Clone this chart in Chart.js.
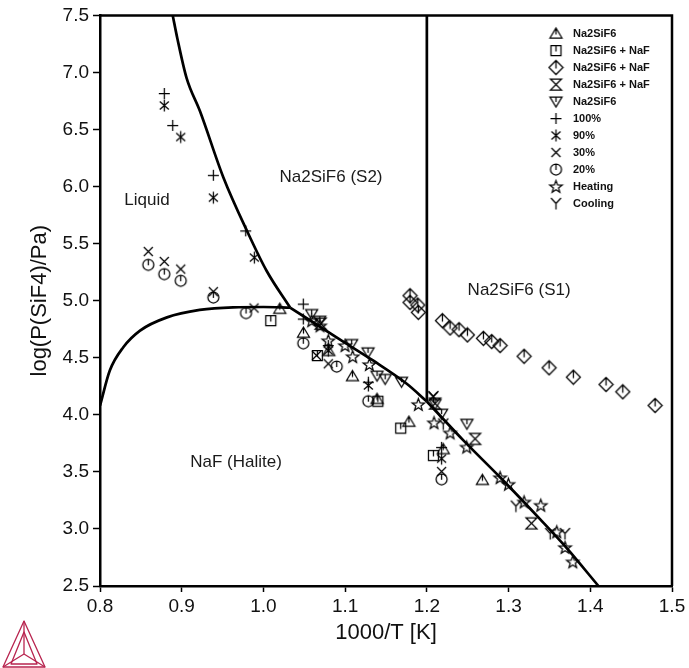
<!DOCTYPE html>
<html>
<head>
<meta charset="utf-8">
<script src="https://cdn.jsdelivr.net/npm/chart.js@4.4.1/dist/chart.umd.min.js"></script>
<style>
  html, body { margin: 0; padding: 0; background: #fff; }
  #wrap { position: relative; width: 689px; height: 668px; }
  #logo { position: absolute; left: 0; top: 618px; }
</style>
</head>
<body>
<div id="wrap">
  <canvas id="chart" width="689" height="668"></canvas>
  <svg id="logo" width="50" height="50" viewBox="0 0 50 50">
    <g fill="none" stroke="#b8244f" stroke-width="1.3" stroke-linejoin="round">
      <polygon points="24,3 3,49 45,49"/>
      <polygon points="24,14 11,46 37,46"/>
      <line x1="24" y1="3" x2="24" y2="36"/>
      <line x1="24" y1="36" x2="3" y2="49"/>
      <line x1="24" y1="36" x2="45" y2="49"/>
    </g>
  </svg>
</div>
<script>
/* ===== DATA ===== */
// phase boundaries
const liqS2X = [0.889, 0.8946, 0.906, 0.9224, 0.951, 0.980, 1.004, 1.0326];
const liqS2Y = [7.5, 7.30, 6.95, 6.66, 6.08, 5.61, 5.26, 4.94];
const liqNaFX = [0.8, 0.812, 0.8285, 0.849, 0.882, 0.922, 0.963, 1.0, 1.0326];
const liqNaFY = [4.08, 4.388, 4.592, 4.738, 4.854, 4.919, 4.942, 4.945, 4.94];
// NaF / Na2SiF6 boundary, split at the S1/S2 point
const s2NaFX = [1.0326, 1.0938, 1.1341, 1.1754, 1.2];
const s2NaFY = [4.94, 4.659, 4.476, 4.272, 4.117];
const s1NaFX = [1.2, 1.2447, 1.2896, 1.3385, 1.3712, 1.41];
const s1NaFY = [4.117, 3.776, 3.453, 3.086, 2.832, 2.5];
const s1S2X = [1.2, 1.2];
const s1S2Y = [7.5, 4.117];

// measured points
const triX = [1.02, 1.049, 1.08, 1.109, 1.139, 1.178, 1.22, 1.268];
const triY = [4.93, 4.72, 4.56, 4.34, 4.14, 3.94, 3.70, 3.43];
const sqX = [1.009, 1.066, 1.14, 1.168, 1.208];
const sqY = [4.826, 4.52, 4.12, 3.884, 3.645];
const diaX = [1.1794, 1.1794, 1.1889, 1.1896, 1.219, 1.2284, 1.2394, 1.2496, 1.2692, 1.2794, 1.2896, 1.319, 1.3496, 1.3793, 1.4193, 1.4398, 1.4793];
const diaY = [5.044, 4.985, 4.962, 4.898, 4.825, 4.761, 4.746, 4.700, 4.670, 4.642, 4.607, 4.513, 4.412, 4.330, 4.266, 4.202, 4.082];
const hourX = [1.07, 1.21, 1.259, 1.328];
const hourY = [4.80, 4.10, 3.79, 3.05];
const dtriX = [1.059, 1.069, 1.108, 1.128, 1.139, 1.149, 1.169, 1.21, 1.218, 1.249];
const dtriY = [4.884, 4.825, 4.621, 4.548, 4.344, 4.315, 4.29, 4.097, 4.01, 3.922];
const p100X = [0.8787, 0.889, 0.9387, 0.9783, 1.0488, 1.0488, 1.0794, 1.1284, 1.218];
const p100Y = [6.816, 6.536, 6.099, 5.612, 4.971, 4.84, 4.607, 4.286, 3.715];
const p90X = [0.8787, 0.8988, 0.9387, 0.9889, 1.0794, 1.1284, 1.218];
const p90Y = [6.711, 6.434, 5.903, 5.378, 4.563, 4.257, 3.616];
const p30X = [0.8591, 0.8787, 0.8988, 0.9387, 0.9885, 1.065, 1.0794, 1.2076, 1.218];
const p30Y = [5.431, 5.344, 5.277, 5.079, 4.936, 4.52, 4.447, 4.161, 3.503];
const p20X = [0.8591, 0.8787, 0.8988, 0.9387, 0.9787, 1.0488, 1.0897, 1.1284, 1.218];
const p20Y = [5.315, 5.233, 5.175, 5.029, 4.892, 4.627, 4.423, 4.120, 3.435];
const heatX = [1.0591, 1.0693, 1.0794, 1.0999, 1.1093, 1.1296, 1.1896, 1.2088, 1.2284, 1.2488, 1.2896, 1.2998, 1.319, 1.3394, 1.359, 1.3691, 1.3786];
const heatY = [4.825, 4.781, 4.650, 4.607, 4.510, 4.441, 4.091, 3.931, 3.842, 3.718, 3.450, 3.392, 3.237, 3.208, 2.975, 2.838, 2.712];
const coolX = [1.208, 1.22, 1.309, 1.351, 1.369];
const coolY = [4.16, 3.92, 3.20, 2.96, 2.96];

// region labels
const regionText = ["Liquid", "Na2SiF6 (S2)", "Na2SiF6 (S1)", "NaF (Halite)"];
const regionX = [0.8575, 1.0827, 1.3129, 0.9665];
const regionY = [5.883, 6.084, 5.087, 3.584];

const xTicks = [0.8, 0.9, 1.0, 1.1, 1.2, 1.3, 1.4, 1.5];
const yTicks = [2.5, 3.0, 3.5, 4.0, 4.5, 5.0, 5.5, 6.0, 6.5, 7.0, 7.5];

/* ===== SYMBOLS ===== */
function makeSymbol(kind) {
  const s = 17, m = 8.5;
  const c = document.createElement("canvas");
  c.width = s; c.height = s;
  const g = c.getContext("2d");
  g.strokeStyle = "#000";
  g.lineWidth = 1.25;
  g.beginPath();
  if (kind === "tri") {
    g.moveTo(m, m - 5.5); g.lineTo(m + 6, m + 4.5); g.lineTo(m - 6, m + 4.5); g.closePath();
    g.moveTo(m, m - 5.5); g.lineTo(m, m + 1);
  } else if (kind === "dtri") {
    g.moveTo(m - 6, m - 4.5); g.lineTo(m + 6, m - 4.5); g.lineTo(m, m + 5.5); g.closePath();
    g.moveTo(m, m - 4.5); g.lineTo(m, m + 0.5);
  } else if (kind === "sq") {
    g.rect(m - 5, m - 5, 10, 10);
    g.moveTo(m, m - 5); g.lineTo(m, m + 1);
  } else if (kind === "dia") {
    g.moveTo(m, m - 7); g.lineTo(m + 7, m); g.lineTo(m, m + 7); g.lineTo(m - 7, m); g.closePath();
    g.moveTo(m, m - 7); g.lineTo(m, m + 1);
  } else if (kind === "hour") {
    g.moveTo(m - 5.5, m - 5.5); g.lineTo(m + 5.5, m - 5.5); g.lineTo(m - 5.5, m + 5.5); g.lineTo(m + 5.5, m + 5.5); g.closePath();
  } else if (kind === "plus") {
    g.moveTo(m - 5.5, m); g.lineTo(m + 5.5, m); g.moveTo(m, m - 5.5); g.lineTo(m, m + 5.5);
  } else if (kind === "ast") {
    g.moveTo(m, m - 6); g.lineTo(m, m + 6);
    g.moveTo(m - 4.5, m - 4); g.lineTo(m + 4.5, m + 4);
    g.moveTo(m + 4.5, m - 4); g.lineTo(m - 4.5, m + 4);
  } else if (kind === "cross") {
    g.moveTo(m - 4.5, m - 4.5); g.lineTo(m + 4.5, m + 4.5);
    g.moveTo(m + 4.5, m - 4.5); g.lineTo(m - 4.5, m + 4.5);
  } else if (kind === "circ") {
    g.arc(m, m, 5.5, 0, Math.PI * 2);
    g.moveTo(m, m - 5.5); g.lineTo(m, m + 0.5);
  } else if (kind === "star") {
    for (let i = 0; i < 10; i++) {
      const r = i % 2 ? 2.7 : 6.5;
      const a = -Math.PI / 2 + i * Math.PI / 5;
      const px = m + r * Math.cos(a), py = m + 0.6 + r * Math.sin(a);
      if (i) g.lineTo(px, py); else g.moveTo(px, py);
    }
    g.closePath();
  } else if (kind === "ycool") {
    g.moveTo(m - 5, m - 5.5); g.lineTo(m, m); g.lineTo(m + 5, m - 5.5);
    g.moveTo(m, m); g.lineTo(m, m + 6);
  }
  g.stroke();
  return c;
}

const pts = (xs, ys) => xs.map((x, i) => ({ x, y: ys[i] }));

function markers(label, xs, ys, kind, row) {
  const icon = makeSymbol(kind);
  return {
    label, data: pts(xs, ys), pointStyle: icon, pointRadius: 5,
    showLine: false, order: 1, legendRow: row, legendIcon: icon
  };
}

function boundary(xs, ys, smooth) {
  return {
    data: pts(xs, ys), showLine: true, borderColor: "#000", borderWidth: 2.7,
    pointRadius: 0, fill: false, order: 0,
    cubicInterpolationMode: smooth ? "monotone" : "default", tension: 0
  };
}

/* ===== PLUGINS ===== */
const frame = {
  id: "frame",
  afterDraw(chart) {
    const { ctx, chartArea: a } = chart;
    ctx.save();
    ctx.strokeStyle = "#000";
    ctx.lineWidth = 2.5;
    ctx.beginPath();
    ctx.moveTo(a.left, a.top);
    ctx.lineTo(a.right, a.top);
    ctx.lineTo(a.right, a.bottom);
    ctx.stroke();
    ctx.restore();
  }
};

const regionLabels = {
  id: "regionLabels",
  afterDatasetsDraw(chart) {
    const { ctx, scales: { x, y } } = chart;
    ctx.save();
    ctx.font = '17px "Liberation Sans", Arial, sans-serif';
    ctx.fillStyle = "#1a1a1a";
    ctx.textAlign = "center";
    ctx.textBaseline = "middle";
    regionText.forEach((t, i) => ctx.fillText(t, x.getPixelForValue(regionX[i]), y.getPixelForValue(regionY[i])));
    ctx.restore();
  }
};

const symLegend = {
  id: "symLegend",
  afterDraw(chart) {
    const { ctx } = chart;
    ctx.save();
    ctx.font = 'bold 11px "Liberation Sans", Arial, sans-serif';
    ctx.fillStyle = "#111";
    ctx.textBaseline = "middle";
    chart.data.datasets.forEach(ds => {
      if (ds.legendRow === undefined) return;
      const yy = 33.5 + ds.legendRow * 17;
      ctx.drawImage(ds.legendIcon, 556 - 8.5, yy - 8.5);
      ctx.fillText(ds.label, 573, yy);
    });
    ctx.restore();
  }
};

/* ===== CHART ===== */
Chart.defaults.font.family = '"Liberation Sans", Arial, sans-serif';
Chart.defaults.color = "#111";

new Chart(document.getElementById("chart"), {
  type: "scatter",
  data: {
    datasets: [
      markers("Na2SiF6", triX, triY, "tri", 0),
      markers("Na2SiF6 + NaF", sqX, sqY, "sq", 1),
      markers("Na2SiF6 + NaF", diaX, diaY, "dia", 2),
      markers("Na2SiF6 + NaF", hourX, hourY, "hour", 3),
      markers("Na2SiF6", dtriX, dtriY, "dtri", 4),
      markers("100%", p100X, p100Y, "plus", 5),
      markers("90%", p90X, p90Y, "ast", 6),
      markers("30%", p30X, p30Y, "cross", 7),
      markers("20%", p20X, p20Y, "circ", 8),
      markers("Heating", heatX, heatY, "star", 9),
      markers("Cooling", coolX, coolY, "ycool", 10),
      boundary(liqS2X, liqS2Y, true),
      boundary(liqNaFX, liqNaFY, true),
      boundary(s2NaFX, s2NaFY, true),
      boundary(s1NaFX, s1NaFY, true),
      boundary(s1S2X, s1S2Y, false)
    ]
  },
  options: {
    responsive: false,
    animation: false,
    layout: { padding: { top: 14, right: 17, left: 0, bottom: 0 } },
    plugins: { legend: { display: false }, tooltip: { enabled: false } },
    scales: {
      x: {
        type: "linear", min: 0.8, max: 1.5,
        afterBuildTicks: s => { s.ticks = xTicks.map(v => ({ value: v })); },
        afterFit: s => { s.height = 82; },
        ticks: { callback: v => v.toFixed(1), font: { size: 19 }, padding: 3, maxRotation: 0, autoSkip: false },
        grid: { drawOnChartArea: false, drawTicks: true, tickLength: 6, tickColor: "#000", tickWidth: 1.5 },
        border: { color: "#000", width: 2.5 },
        title: { display: true, text: "1000/T [K]", font: { size: 22 }, padding: { top: 0, bottom: 22 } }
      },
      y: {
        type: "linear", min: 2.5, max: 7.5,
        afterBuildTicks: s => { s.ticks = yTicks.map(v => ({ value: v })); },
        afterFit: s => { s.width = 100; },
        ticks: { callback: v => v.toFixed(1), font: { size: 19 }, padding: 4, autoSkip: false },
        grid: { drawOnChartArea: false, drawTicks: true, tickLength: 7, tickColor: "#000", tickWidth: 1.5 },
        border: { color: "#000", width: 2.5 },
        title: { display: true, text: "log(P(SiF4)/Pa)", font: { size: 22 }, padding: { top: 27, bottom: 0 } }
      }
    }
  },
  plugins: [regionLabels, frame, symLegend]
});
</script>
</body>
</html>
